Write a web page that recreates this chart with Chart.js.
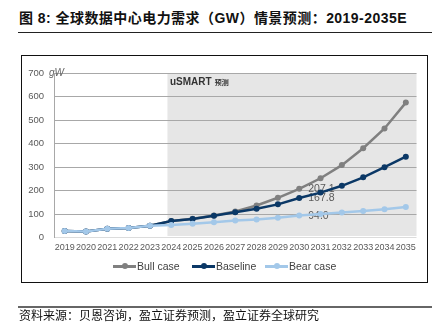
<!DOCTYPE html>
<html>
<head>
<meta charset="utf-8">
<script src="https://cdn.jsdelivr.net/npm/chart.js@4.4.1/dist/chart.umd.min.js"></script>
<style>
  html, body { margin: 0; padding: 0; background: #fff; }
  body { width: 445px; height: 336px; position: relative; overflow: hidden;
         font-family: "Liberation Sans", Arial, "Noto Sans CJK SC", sans-serif; }
  .abs { position: absolute; }
  #title { left: 19px; top: 8px; font-size: 14px; font-weight: bold; color: #111; white-space: nowrap;
           letter-spacing: 0.45px;
           font-family: "Liberation Sans", Arial, "Noto Sans CJK SC", sans-serif; line-height: 20px; }
  #rule1 { left: 18px; top: 31.5px; width: 414px; height: 1px; background: #222; }
  #frame { left: 21px; top: 55px; width: 405px; height: 226px; border: 1.5px solid #111; }
  #rule2 { left: 18px; top: 306px; width: 414px; height: 1.5px; background: #666; }
  #source { left: 19px; top: 307px; font-size: 12px; color: #111; white-space: nowrap; line-height: 16px;
            font-family: "Noto Sans CJK SC", sans-serif; }
  #chart { left: 0; top: 0; }
  #unit { left: 49px; top: 67px; font-size: 10px; font-style: italic; color: #666; line-height: 12px; }
  #tag { left: 170px; top: 76px; font-size: 10px; font-weight: bold; color: #333; line-height: 12px; white-space: nowrap; }
  #tag small { font-size: 7px; font-family: "Noto Sans CJK SC", sans-serif; margin-left: 3px; }
  .leg { position: absolute; top: 259px; height: 14px; display: flex; align-items: center; white-space: nowrap;
         font-size: 10.5px; color: #404040; }
  .leg .sw { position: relative; width: 23px; height: 14px; margin-right: 1px; }
  .leg .sw i { position: absolute; left: 0; right: 0; top: 6px; height: 2.5px; }
  .leg .sw b { position: absolute; left: 8.5px; top: 4.2px; width: 6px; height: 6px; border-radius: 50%; }
</style>
</head>
<body>
<div id="title" class="abs">图 8: 全球数据中心电力需求（GW）情景预测：2019-2035E</div>
<div id="rule1" class="abs"></div>
<div id="frame" class="abs"></div>
<canvas id="chart" class="abs" width="445" height="336"></canvas>
<div id="unit" class="abs">gW</div>
<div id="tag" class="abs">uSMART<small>预测</small></div>
<div id="legend"></div>
<div id="rule2" class="abs"></div>
<div id="source" class="abs">资料来源：贝恩咨询，盈立证券预测，盈立证券全球研究</div>

<script>
// Years on the x axis
const years = ['2019','2020','2021','2022','2023','2024','2025','2026','2027',
               '2028','2029','2030','2031','2032','2033','2034','2035'];

// Data-centre power demand by scenario (GW)
const bullCase = [28, 26, 37, 40, 50, 70, 80, 94, 111, 136, 169, 207.1, 252, 308, 380, 464, 574];
const baseline = [28, 26, 37, 40, 50, 70, 79, 93, 107, 122, 141, 167.8, 191, 220, 256, 299, 344];
const bearCase = [28, 26, 37, 40, 50, 53, 59, 65, 72, 77, 84, 94.0, 100, 106, 113, 120, 130];

// Y axis ticks
const yTicks = [0, 100, 200, 300, 400, 500, 600, 700];

// Series names and colours
const seriesNames  = ['Bull case', 'Baseline', 'Bear case'];
const seriesColors = ['#808080', '#0b3866', '#a3c8e9'];

// Forecast period starts here; the year whose values are labelled
const forecastStart = '2024';
const labelledYear  = '2030';

// Legend
const legendLefts = [113, 192, 265];
const legend = document.getElementById('legend');
seriesNames.forEach((name, i) => {
  const d = document.createElement('div');
  d.className = 'leg';
  d.style.left = legendLefts[i] + 'px';
  d.innerHTML = '<span class="sw"><i style="background:' + seriesColors[i] + '"></i><b style="background:' +
                seriesColors[i] + '"></b></span><span>' + name + '</span>';
  legend.appendChild(d);
});

// Grey band behind the forecast years
const forecastBand = {
  id: 'forecastBand',
  beforeDraw(chart) {
    const { ctx, chartArea, scales } = chart;
    const x0 = scales.x.getPixelForValue(years.indexOf(forecastStart) - 0.18);
    ctx.save();
    ctx.fillStyle = '#e6e6e6';
    ctx.fillRect(x0, chartArea.top, chartArea.right - x0, chartArea.bottom - 1.5 - chartArea.top);
    ctx.restore();
  }
};

// Value labels for the labelled year, placed right of each point
const yearLabels = {
  id: 'yearLabels',
  beforeDatasetsDraw(chart) {
    const { ctx } = chart;
    const idx = years.indexOf(labelledYear);
    ctx.save();
    ctx.font = '10.5px "Liberation Sans", Arial, sans-serif';
    ctx.fillStyle = '#5a5a5a';
    ctx.textBaseline = 'middle';
    ctx.textAlign = 'left';
    chart.data.datasets.forEach((ds, i) => {
      const pt = chart.getDatasetMeta(i).data[idx];
      ctx.fillText(ds.data[idx].toFixed(1), pt.x + 9, pt.y + 0.5);
    });
    ctx.restore();
  }
};

const series = [bullCase, baseline, bearCase];

new Chart(document.getElementById('chart'), {
  type: 'line',
  data: {
    labels: years,
    datasets: series.map((vals, i) => ({
      label: seriesNames[i],
      data: vals,
      borderColor: seriesColors[i],
      backgroundColor: seriesColors[i],
      borderWidth: 2.5,
      pointRadius: 3,
      pointBorderWidth: 0,
      pointBackgroundColor: seriesColors[i],
      tension: 0,
      order: 2 - i
    }))
  },
  options: {
    responsive: false,
    animation: false,
    layout: { padding: { top: 73, right: 28.5, bottom: 78.5, left: 0 } },
    plugins: { legend: { display: false }, tooltip: { enabled: false } },
    scales: {
      x: {
        type: 'category',
        offset: true,
        grid: { display: false, drawTicks: false },
        border: { display: false },
        ticks: {
          color: '#595959', font: { size: 9, family: '"Liberation Sans", Arial, sans-serif' },
          padding: 5, maxRotation: 0, autoSkip: false
        },
        afterFit(scale) { scale.height = 20; }
      },
      y: {
        min: 0, max: 700,
        afterBuildTicks(scale) { scale.ticks = yTicks.map(v => ({ value: v })); },
        grid: {
          color: ctx => ctx.tick && ctx.tick.value === 0 ? '#dcdcdc' : '#a8a8a8',
          lineWidth: 1, drawTicks: false
        },
        border: { display: true, color: '#a8a8a8', width: 1 },
        ticks: {
          color: '#595959', font: { size: 9.5, family: '"Liberation Sans", Arial, sans-serif' },
          padding: 10
        },
        afterFit(scale) { scale.width = 54; }
      }
    }
  },
  plugins: [forecastBand, yearLabels]
});
</script>
</body>
</html>
